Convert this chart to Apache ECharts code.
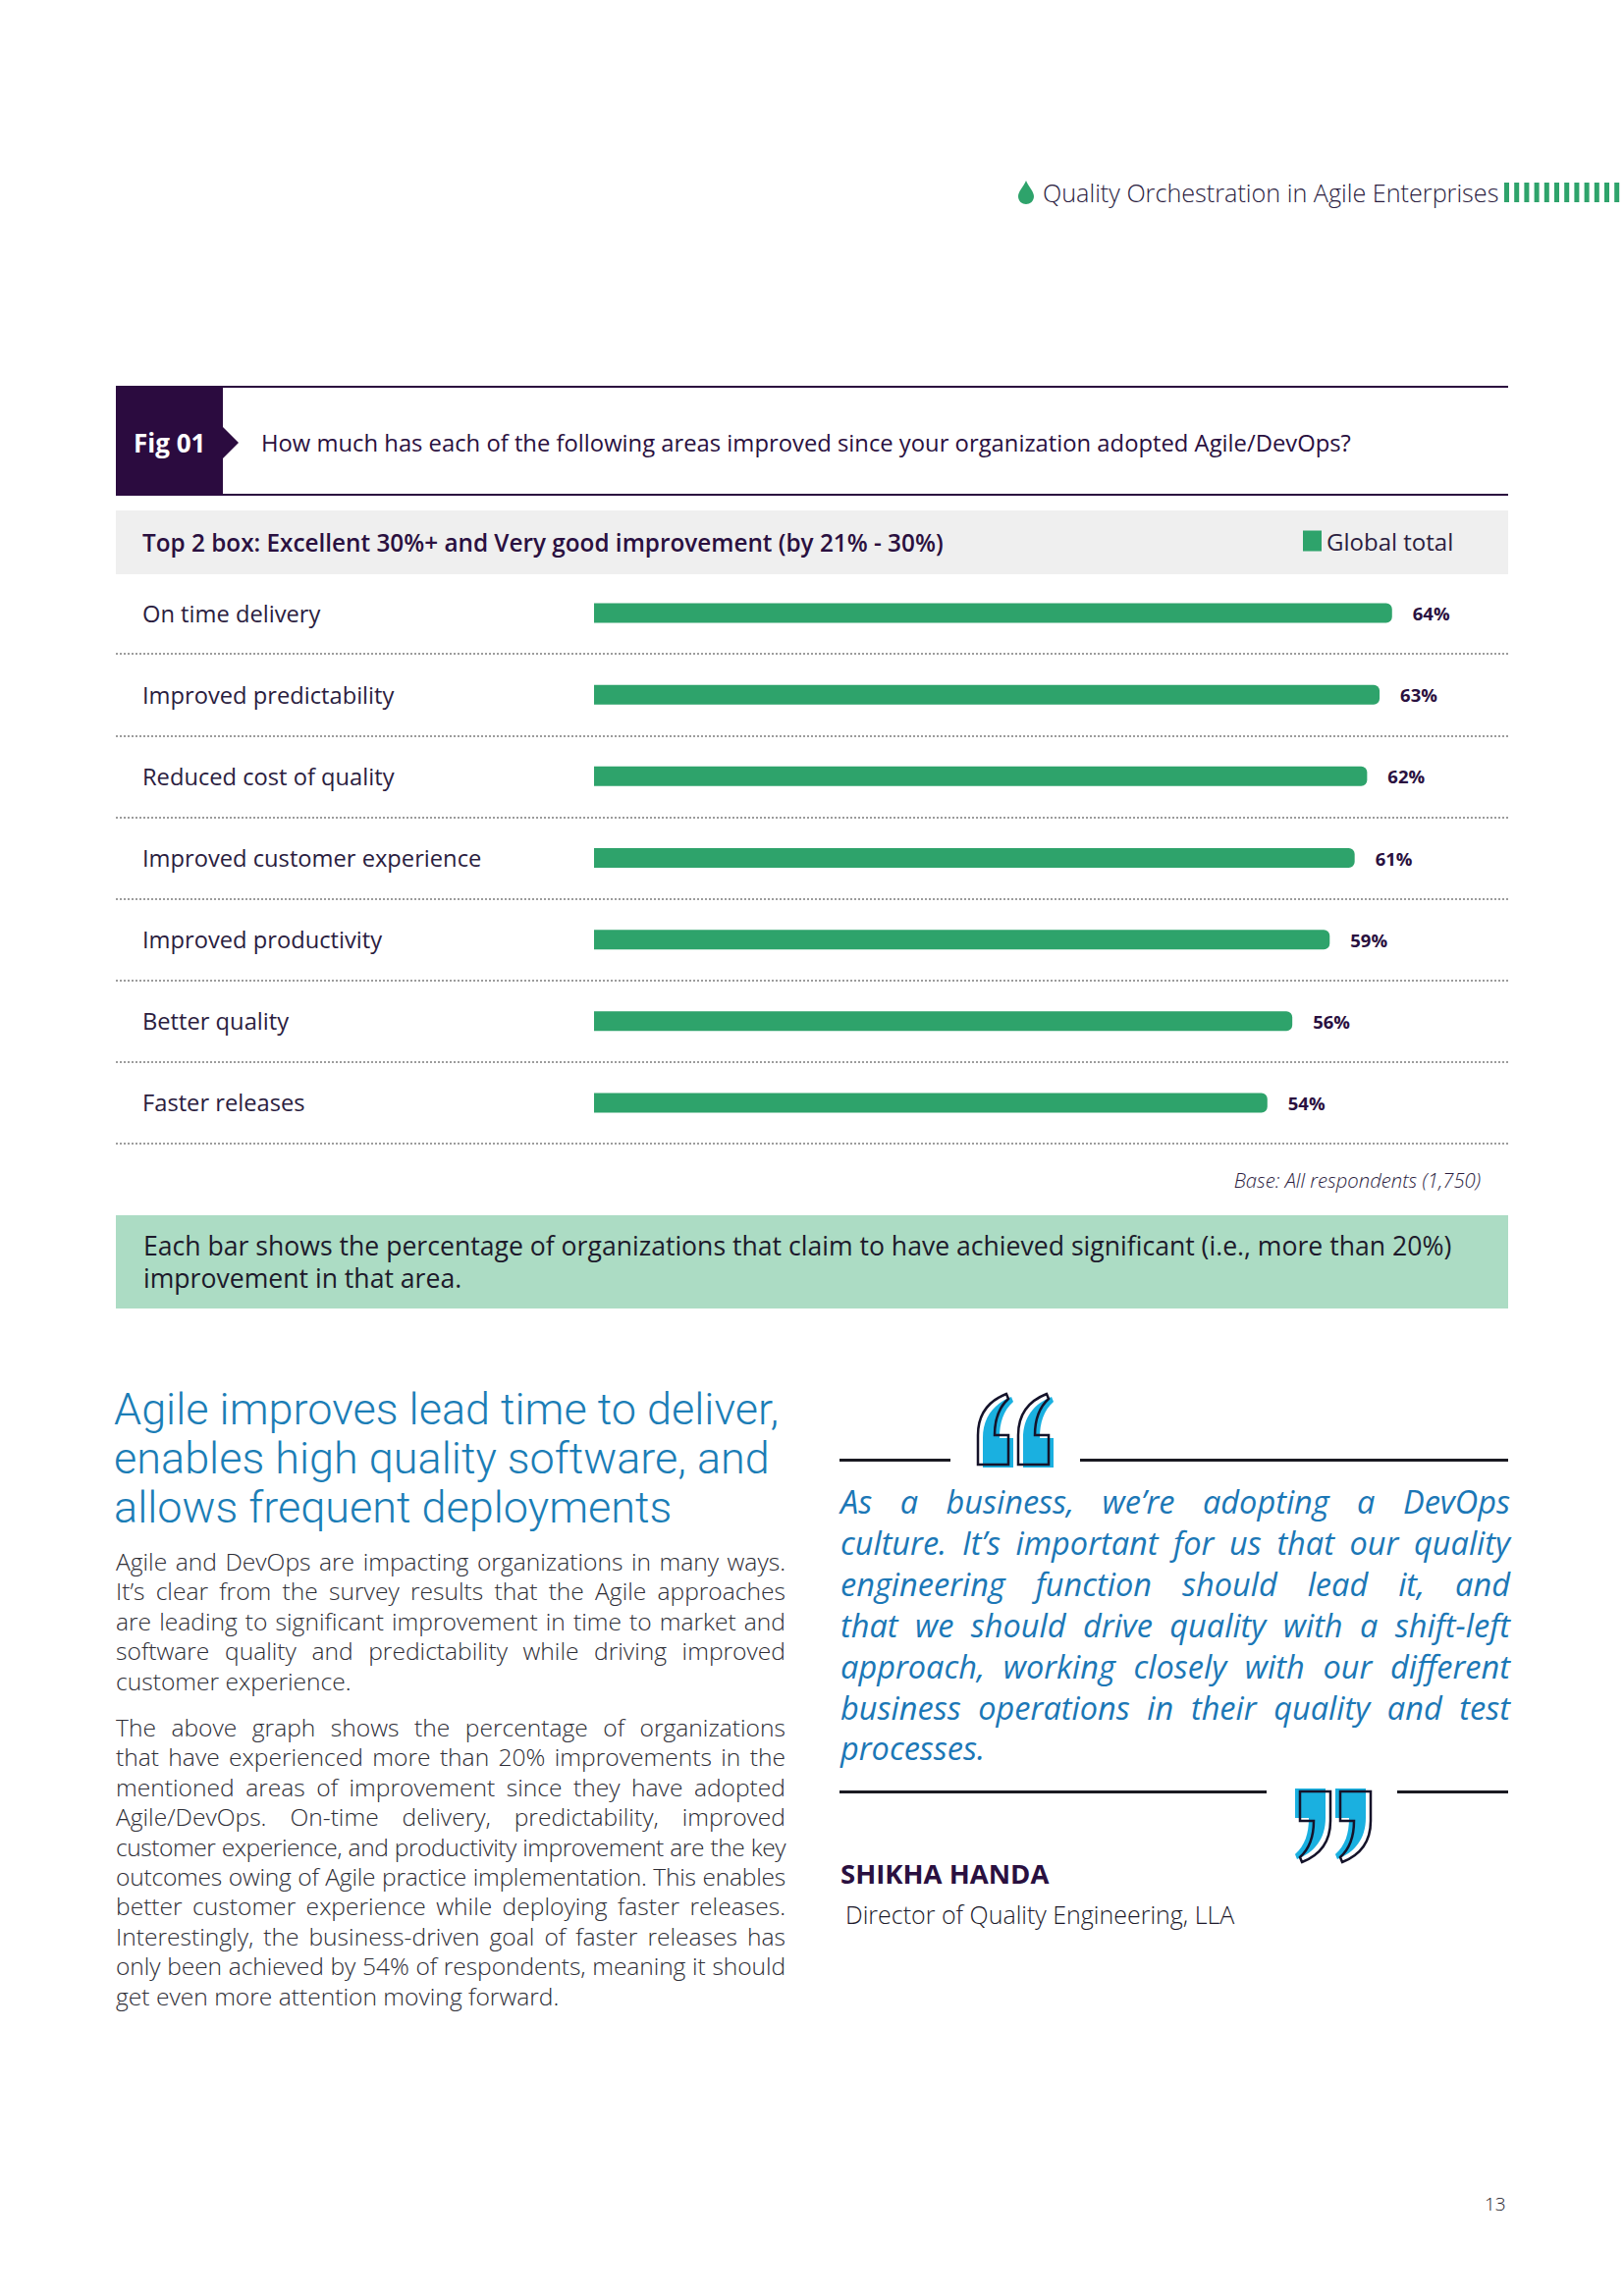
<!DOCTYPE html>
<html>
<head>
<meta charset="utf-8">
<script src="https://cdn.jsdelivr.net/npm/echarts@6/dist/echarts.min.js"></script>
<style>
  html,body{margin:0;padding:0;background:#fff;}
  #page{position:relative;width:1654px;height:2339px;background:#fff;overflow:hidden;font-family:"Open Sans","DejaVu Sans",sans-serif;}
  .abs{position:absolute;white-space:nowrap;}
  .jl{position:absolute;white-space:nowrap;text-align:justify;text-align-last:justify;}
  .ll{position:absolute;white-space:nowrap;text-align:left;}
</style>
</head>
<body>
<div id="page">
  <!-- running header -->
  <svg class="abs" style="left:1034px;top:183px" width="24" height="26" viewBox="0 0 24 26">
    <path d="M11 1 C8 8 3 12 3 17 C3 22 7 25 11 25 C15 25 19 22 19 17 C19 12 14 8 11 1 Z" fill="#2ea36b"/>
  </svg>
  <div class="abs" style="left:1062px;top:180px;line-height:32px;font-size:25.2px;font-weight:300;color:#2b1d3f;">Quality Orchestration in Agile Enterprises</div>
  <svg id="hbars" class="abs" style="left:1530px;top:185px" width="124" height="22"></svg>

  <!-- figure header -->
  <div class="abs" style="left:118px;top:393px;width:1418px;height:2px;background:#2b0b3f"></div>
  <div class="abs" style="left:118px;top:503px;width:1418px;height:2px;background:#2b0b3f"></div>
  <div class="abs" style="left:118px;top:394px;width:109px;height:110px;background:#2b0b3f"></div>
  <svg class="abs" style="left:226px;top:434px" width="20" height="36"><path d="M0 0 L17 17 L0 34 Z" fill="#2b0b3f"/></svg>
  <div class="abs" style="left:136px;top:435px;line-height:32px;font-size:26px;font-weight:700;color:#fff;">Fig 01</div>
  <div class="abs" style="left:266px;top:435px;line-height:32px;font-size:23.8px;font-weight:400;color:#2a1040;">How much has each of the following areas improved since your organization adopted Agile/DevOps?</div>

  <!-- chart -->
  <div id="chart" class="abs" style="left:0;top:519px;width:1654px;height:660px;"></div>

  <div class="abs" style="right:146px;top:1188px;line-height:28px;font-size:20.3px;font-style:italic;font-weight:300;color:#2b1d3f;">Base: All respondents (1,750)</div>

  <!-- note box -->
  <div class="abs" style="left:118px;top:1238px;width:1418px;height:95px;background:#acdcc4"></div>
  <div class="abs" style="left:146px;top:1253px;line-height:32px;font-size:26.6px;color:#1d1a2b;">Each bar shows the percentage of organizations that claim to have achieved significant (i.e., more than 20%)</div>
  <div class="abs" style="left:146px;top:1286px;line-height:32px;font-size:26.6px;color:#1d1a2b;">improvement in that area.</div>

  <!-- headline -->
  <div id="headline"></div>

  <!-- body text -->
  <div id="body"></div>

  <!-- quote -->
  <div class="abs" style="left:855px;top:1486px;width:113px;height:3px;background:#1a1a22"></div>
  <div class="abs" style="left:1100px;top:1486px;width:436px;height:3px;background:#1a1a22"></div>
  <div class="abs" style="left:855px;top:1824px;width:435px;height:3px;background:#1a1a22"></div>
  <div class="abs" style="left:1423px;top:1824px;width:113px;height:3px;background:#1a1a22"></div>
  <svg class="abs" style="left:0;top:0;pointer-events:none" width="1654" height="2339">
    <defs>
      <path id="qm" d="M31 0 C13 7 2 21 2 42 L2 72 L33 72 L33 42 L19 42 C19 26 23 14 33 5 Z"/>
    </defs>
    <g transform="translate(999,1423)"><use href="#qm" fill="#1ab0e0"/></g>
    <g transform="translate(1040,1423)"><use href="#qm" fill="#1ab0e0"/></g>
    <g transform="translate(994,1420)"><use href="#qm" fill="none" stroke="#15132a" stroke-width="2.5"/></g>
    <g transform="translate(1035,1420)"><use href="#qm" fill="none" stroke="#15132a" stroke-width="2.5"/></g>
    <g transform="translate(1352,1894) rotate(180)"><use href="#qm" fill="#1ab0e0"/></g>
    <g transform="translate(1393,1894) rotate(180)"><use href="#qm" fill="#1ab0e0"/></g>
    <g transform="translate(1357,1897) rotate(180)"><use href="#qm" fill="none" stroke="#15132a" stroke-width="2.5"/></g>
    <g transform="translate(1398,1897) rotate(180)"><use href="#qm" fill="none" stroke="#15132a" stroke-width="2.5"/></g>
  </svg>
  <div id="quote"></div>
  <div class="abs" style="left:856px;top:1893px;line-height:32px;font-size:27.5px;font-weight:700;color:#2a1040;">SHIKHA HANDA</div>
  <div class="abs" style="left:861px;top:1934px;line-height:32px;font-size:25px;font-weight:300;color:#1d1a2b;">Director of Quality Engineering, LLA</div>

  <div class="abs" style="left:1512px;top:2232px;line-height:26px;font-size:19px;font-weight:300;color:#1d1a2b;">13</div>
</div>

<script>
// ---------- DATA ----------
const categories = [
  "On time delivery",
  "Improved predictability",
  "Reduced cost of quality",
  "Improved customer experience",
  "Improved productivity",
  "Better quality",
  "Faster releases"
];
const globalTotal = [64, 63, 62, 61, 59, 56, 54];
const seriesName = "Global total";
const bandTitle = "Top 2 box: Excellent 30%+ and Very good improvement (by 21% - 30%)";

const headlineLines = [
  "Agile improves lead time to deliver,",
  "enables high quality software, and",
  "allows frequent deployments"
];
const para1 = [
  "Agile and DevOps are impacting organizations in many ways.",
  "It’s clear from the survey results that the Agile approaches",
  "are leading to significant improvement in time to market and",
  "software quality and predictability while driving improved",
  "customer experience."
];
const para2 = [
  "The above graph shows the percentage of organizations",
  "that have experienced more than 20% improvements in the",
  "mentioned areas of improvement since they have adopted",
  "Agile/DevOps. On-time delivery, predictability, improved",
  "customer experience, and productivity improvement are the key",
  "outcomes owing of Agile practice implementation. This enables",
  "better customer experience while deploying faster releases.",
  "Interestingly, the business-driven goal of faster releases has",
  "only been achieved by 54% of respondents, meaning it should",
  "get even more attention moving forward."
];
const quoteLines = [
  "As a business, we’re adopting a DevOps",
  "culture. It’s important for us that our quality",
  "engineering function should lead it, and",
  "that we should drive quality with a shift-left",
  "approach, working closely with our different",
  "business operations in their quality and test",
  "processes."
];

// ---------- header bars ----------
(function(){
  const svg = document.getElementById('hbars');
  let s = '';
  for (let i = 0; i < 12; i++) {
    s += '<rect x="' + (2 + i*10.2).toFixed(1) + '" y="1" width="5" height="20" fill="#2ea36b"/>';
  }
  svg.innerHTML = s;
})();

// ---------- text blocks ----------
function addLines(containerId, lines, left, top, width, lh, style, justify) {
  const c = document.getElementById(containerId);
  lines.forEach((t, i) => {
    const d = document.createElement('div');
    const last = i === lines.length - 1;
    d.className = (justify && !last) ? 'jl' : 'll';
    d.style.cssText += 'left:' + left + 'px;top:' + (top + i*lh) + 'px;width:' + width + 'px;height:' + lh + 'px;line-height:' + lh + 'px;' + style;
    d.textContent = t;
    c.appendChild(d);
    if (!justify) return;
    // shrink letter-spacing if natural width exceeds available width
    const sp = document.createElement('span');
    sp.style.cssText = 'position:absolute;visibility:hidden;white-space:nowrap;' + style;
    sp.textContent = t;
    document.body.appendChild(sp);
    const w = sp.getBoundingClientRect().width;
    sp.remove();
    if (w > width - 4) {
      d.style.letterSpacing = ((width - 4 - w) / t.length).toFixed(3) + 'px';
    }
  });
}
const headStyle = 'font-size:45px;font-weight:300;color:#1b7db6;font-family:Roboto,sans-serif;';
addLines('headline', headlineLines, 116, 1411, 760, 50, headStyle, false);
const bodyStyle = 'font-size:24.6px;font-weight:300;color:#2e2e36;font-family:"Open Sans",sans-serif;';
addLines('body', para1, 118, 1576, 682, 30.4, bodyStyle, true);
addLines('body', para2, 118, 1745, 682, 30.4, bodyStyle, true);
const qStyle = 'font-size:32.5px;font-style:italic;font-weight:400;color:#1b77b6;font-family:"Open Sans",sans-serif;';
addLines('quote', quoteLines, 856, 1509, 682, 41.9, qStyle, true);

// ---------- chart ----------
const FONT = '"Open Sans", sans-serif';
const chart = echarts.init(document.getElementById('chart'), null, {renderer: 'svg'});
chart.setOption({
  animation: false,
  textStyle: {fontFamily: FONT},
  legend: {
    data: [seriesName],
    left: 1322, top: 15,
    icon: 'rect', itemWidth: 19, itemHeight: 21,
    textStyle: {fontSize: 24, color: '#2b1d3f', fontFamily: FONT},
    z: 10
  },
  graphic: [
    {type: 'rect', shape: {x: 118, y: 1, width: 1418, height: 65}, style: {fill: '#efefef'}, z: 5},
    {type: 'text', x: 145, y: 33, z: 6,
     style: {text: bandTitle, fontSize: 24.3, fontWeight: 600, fill: '#2a1040', fontFamily: FONT, textVerticalAlign: 'middle'}}
  ],
  grid: {left: 118, top: 64, width: 1418, height: 582, containLabel: false},
  xAxis: {type: 'value', min: -38.35, max: 73.31, show: false},
  yAxis: {
    type: 'category', inverse: true, data: categories,
    axisLine: {show: false, onZero: false}, axisTick: {show: false},
    axisLabel: {inside: true, margin: 27, fontSize: 23.7, color: '#2b1d3f', fontFamily: FONT},
    splitLine: {show: true, lineStyle: {type: [2, 2], color: '#9c9c9c', width: 2}}
  },
  series: [{
    type: 'bar', name: seriesName, data: globalTotal, barWidth: 20,
    itemStyle: {color: '#2ea36b', borderRadius: [0, 6, 6, 0]},
    label: {show: true, position: 'right', distance: 21, formatter: '{c}%',
            fontSize: 18.5, fontWeight: 'bold', color: '#2a1040', fontFamily: FONT}
  }]
});
</script>
</body>
</html>
